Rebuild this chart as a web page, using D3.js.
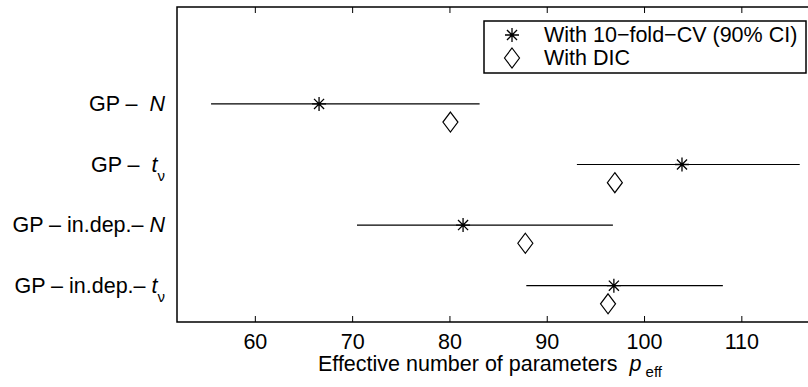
<!DOCTYPE html>
<html lang="en">
<head>
<meta charset="utf-8">
<title>Effective number of parameters</title>
<script src="https://cdn.jsdelivr.net/npm/d3@7"></script>
<style>
  body { margin: 0; background: #fff; }
  svg text { font-family: "Liberation Sans", Arial, Helvetica, sans-serif; fill: #000; }
</style>
</head>
<body>
<script>
// data
var labelPrefix = ["GP \u2013  ", "GP \u2013  ", "GP \u2013 in.dep.\u2013 ", "GP \u2013 in.dep.\u2013 "];
var labelSymbol = ["N", "t", "N", "t"];      // t gets a subscript nu
var cvMean = [66.6, 103.9, 81.4, 96.9];
var cvLow  = [55.5, 93.1, 70.5, 87.9];
var cvHigh = [83.1, 116.0, 96.8, 108.1];
var dicVal = [80.1, 97.0, 87.8, 96.3];
var xTicks = [60, 70, 80, 90, 100, 110];
var legendLabels = ["With 10\u2212fold\u2212CV (90% CI)", "With DIC"];

var w = 808, h = 387;
var axLeft = 177, axTop = 7, axBottom = 322;
var fs = 21.5;

var svg = d3.select("body").append("svg")
  .attr("width", w).attr("height", h);

var x = d3.scaleLinear().domain([52, 120]).range([axLeft, axLeft + 68 * 9.73]);
var y = d3.scaleLinear().domain([5.6, 0.4]).range([axTop, axBottom]);

// row i sits at y = 4 - i
function rowY(i) { return y(4 - i); }
function dicY(i) { return y(4 - i - 0.3); }

// axes box (right side falls outside the window)
var xr = x.range()[1];
svg.append("path")
  .attr("d", "M" + xr + "," + axTop + "H" + axLeft + "V" + axBottom + "H" + xr)
  .attr("fill", "none").attr("stroke", "#000").attr("stroke-width", 1.5);

svg.append("g")
  .attr("transform", "translate(0," + axBottom + ")")
  .call(d3.axisBottom(x).tickValues(xTicks).tickSize(-6).tickPadding(12))
  .call(function(g) {
    g.select(".domain").remove();
    g.selectAll("text").attr("font-size", fs).attr("font-family", "Liberation Sans, Arial, sans-serif");
  });

svg.append("g")
  .attr("transform", "translate(0," + axTop + ")")
  .call(d3.axisTop(x).tickValues(xTicks).tickSize(-6).tickFormat(""))
  .call(function(g) {
    g.select(".domain").remove();
  });

// y category labels
var labels = svg.append("g").selectAll("text")
  .data(labelPrefix)
  .enter().append("text")
  .attr("x", 165)
  .attr("y", function(d, i) { return rowY(i) + 7; })
  .attr("text-anchor", "end")
  .attr("font-size", fs)
  .style("white-space", "pre");

labels.each(function(d, i) {
  var t = d3.select(this);
  t.append("tspan").text(d);
  t.append("tspan").attr("font-style", "italic").text(labelSymbol[i]);
  if (labelSymbol[i] === "t") {
    t.append("tspan").attr("font-size", 15).attr("dy", 9).text("\u03bd");
  }
});

// CV intervals
svg.append("g").selectAll("line")
  .data(cvMean)
  .enter().append("line")
  .attr("x1", function(d, i) { return x(cvLow[i]); })
  .attr("x2", function(d, i) { return x(cvHigh[i]); })
  .attr("y1", function(d, i) { return rowY(i); })
  .attr("y2", function(d, i) { return rowY(i); })
  .attr("stroke", "#000").attr("stroke-width", 1.2);

function star(g, cx, cy) {
  var r = 7;
  var d = "M" + (cx - r) + "," + cy + "H" + (cx + r) +
          "M" + cx + "," + (cy - r) + "V" + (cy + r) +
          "M" + (cx - r * 0.72) + "," + (cy - r * 0.72) + "L" + (cx + r * 0.72) + "," + (cy + r * 0.72) +
          "M" + (cx - r * 0.72) + "," + (cy + r * 0.72) + "L" + (cx + r * 0.72) + "," + (cy - r * 0.72);
  g.append("path").attr("d", d).attr("stroke", "#000").attr("stroke-width", 1.3).attr("fill", "none");
}
function diamond(g, cx, cy) {
  var a = 7.5, b = 10;
  g.append("path")
    .attr("d", "M" + cx + "," + (cy - b) + "L" + (cx + a) + "," + cy + "L" + cx + "," + (cy + b) + "L" + (cx - a) + "," + cy + "Z")
    .attr("stroke", "#000").attr("stroke-width", 1.2).attr("fill", "none");
}

var marks = svg.append("g");
cvMean.forEach(function(v, i) { star(marks, x(v), rowY(i)); });
dicVal.forEach(function(v, i) { diamond(marks, x(v), dicY(i)); });

// legend
var legend = svg.append("g");
legend.append("rect")
  .attr("x", 484).attr("y", 21).attr("width", 322).attr("height", 52)
  .attr("fill", "#fff").attr("stroke", "#000").attr("stroke-width", 1.5);
star(legend, 512, 35);
diamond(legend, 512, 58);
legend.selectAll("text.lg")
  .data(legendLabels)
  .enter().append("text")
  .attr("class", "lg")
  .attr("x", 544)
  .attr("y", function(d, i) { return 42 + i * 23; })
  .attr("font-size", fs)
  .text(function(d) { return d; });

// x label
var xl = svg.append("text")
  .attr("x", 490).attr("y", 371)
  .attr("text-anchor", "middle")
  .attr("font-size", fs)
  .style("white-space", "pre");
xl.append("tspan").text("Effective number of parameters  ");
xl.append("tspan").attr("font-style", "italic").text("p");
xl.append("tspan").attr("font-size", 15).attr("dy", 6).text(" eff");
</script>
</body>
</html>
